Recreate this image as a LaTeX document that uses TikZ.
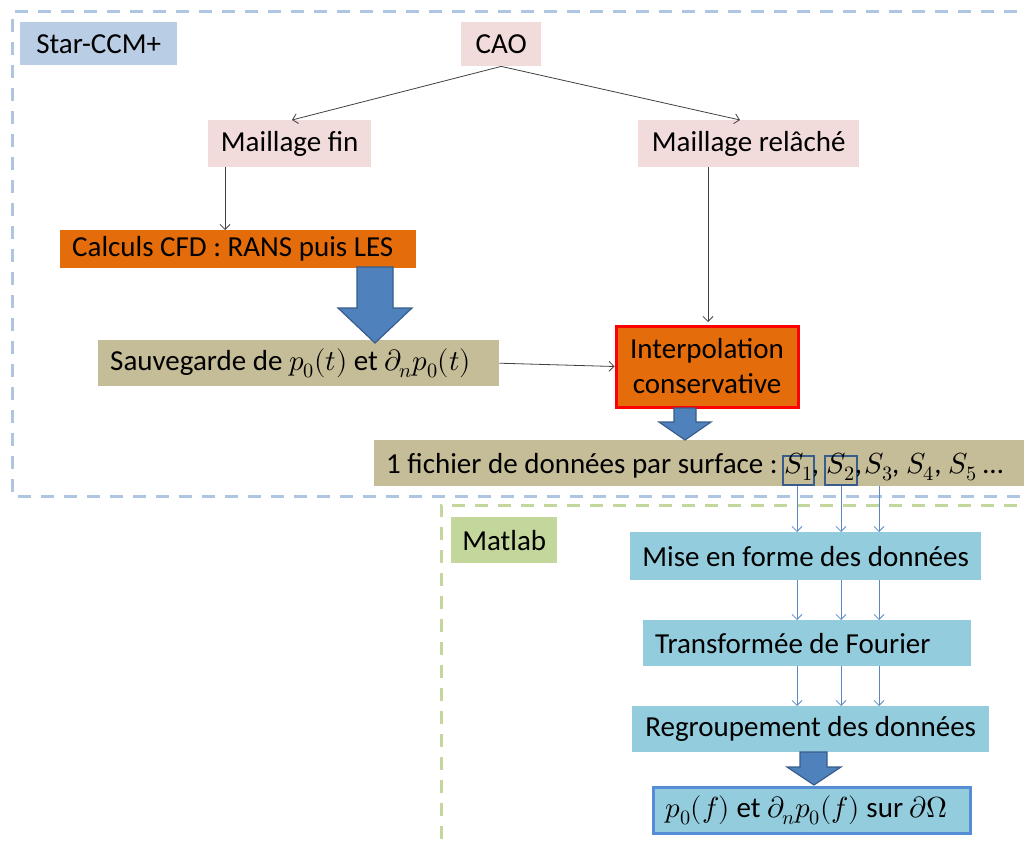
\documentclass[tikz,border=0pt]{standalone}
\usepackage{fontspec}
\usepackage{unicode-math}
\setmainfont{Carlito}
\usetikzlibrary{arrows.meta}
\definecolor{starblue}{HTML}{B9CDE5}
\definecolor{dashblue}{HTML}{AFC6E3}
\definecolor{caopink}{HTML}{F2DCDB}
\definecolor{cfdorange}{HTML}{E46C0A}
\definecolor{tan}{HTML}{C4BD97}
\definecolor{matgreen}{HTML}{C3D69B}
\definecolor{aqua}{HTML}{93CDDD}
\definecolor{arrblue}{HTML}{4F81BD}
\definecolor{arrdark}{HTML}{385D8A}
\definecolor{thinblue}{HTML}{5B87C5}
\definecolor{finalborder}{HTML}{558ED5}
\tikzset{
  big/.style={font=\fontsize{29}{35}\selectfont},
  box/.style={rectangle, anchor=north west, inner xsep=0pt, inner ysep=0pt, big},
  lbox/.style={box, align=flush left, inner xsep=12pt},
  sbox/.style={draw=arrdark, line width=1.2pt, inner xsep=1pt, inner ysep=0pt, text height=17pt, text depth=12pt, anchor=base, big},
  stext/.style={inner sep=0pt, anchor=base, big},
  thin/.style={draw=black!75, line width=0.8pt, -{Straight Barb[length=5pt,width=10pt]}},
  thinb/.style={draw=thinblue, line width=0.8pt, -{Straight Barb[length=5pt,width=10pt]}},
  bigarrow/.style={fill=arrblue, draw=arrdark, line width=1.2pt, line join=miter},
  frame/.style={line width=3pt, dash pattern=on 13pt off 10pt},
}
\begin{document}
\begin{tikzpicture}[x=1pt,y=-1pt]
\useasboundingbox (0,0) rectangle (1024,848);
% frames
\draw[frame, draw=dashblue] (1040,12) -- (12,12) -- (12,496) -- (1040,496);
\draw[frame, draw=matgreen] (1040,505) -- (441,505) -- (441,860);
% labels
\node[box, fill=starblue, minimum width=157pt, minimum height=43pt] (star) at (20,22) {Star-CCM+};
\node[box, fill=matgreen, minimum width=106pt, minimum height=46pt] (matlab) at (451,517) {Matlab};
% nodes
\node[box, fill=caopink, minimum width=80pt, minimum height=44pt] (cao) at (461,22) {CAO};
\node[box, fill=caopink, minimum width=163pt, minimum height=47pt] (fin) at (208,120) {Maillage fin};
\node[box, fill=caopink, minimum width=221pt, minimum height=47pt] (rel) at (638,120) {Maillage relâché};
\node[lbox, fill=cfdorange, minimum height=38pt, text width=332pt] (cfd) at (60,230) {Calculs CFD : RANS puis LES};
\node[lbox, fill=tan, minimum height=46pt, text width=377pt] (sauv) at (98,340) {Sauvegarde de $p_0(t)$ et $\partial_n p_0(t)$};
\node[box, fill=cfdorange, draw=red, line width=3pt, minimum width=182pt, minimum height=81pt, text width=182pt, align=center] (interp) at (614.5,324.5) {Interpolation\\conservative};
\node[box, fill=tan, minimum width=650pt, minimum height=46pt] (fich) at (374,440) {};
\node[stext, anchor=base west] (ftext) at (386,473) {1 fichier de données par surface :};
\node[sbox, minimum width=31pt] (s1) at (798.5,473) {$S_1$};
\node[stext] (c1) at (815.5,473) {,};
\node[sbox, minimum width=32pt] (s2) at (841,473) {$S_2$};
\node[stext] (c2) at (858.5,473) {,};
\node[stext] (s3) at (879,473) {$S_3$};
\node[stext, anchor=base west] (rest) at (892,473) {, $S_4$, $S_5$ \dots};
\coordinate (s1b) at (797,486);
\coordinate (s2b) at (841,486);
\coordinate (s3b) at (879,486);
\node[box, fill=aqua, minimum width=351pt, minimum height=48pt] (mise) at (630,532) {Mise en forme des données};
\node[lbox, fill=aqua, minimum height=46pt, text width=304pt] (trans) at (643,620) {Transformée de Fourier};
\node[box, fill=aqua, minimum width=357pt, minimum height=46pt] (regr) at (632,706) {Regroupement des données};
\node[lbox, fill=aqua, draw=finalborder, line width=2.5pt, minimum height=46pt, text width=293pt] (final) at (652.25,786.25) {$p_0(f)$ et $\partial_n p_0(f)$ sur $\partial\Omega$};
% thin arrows
\draw[thin] (cao.south) -- (292,120);
\draw[thin] (cao.south) -- (740,120);
\draw[thin] (225,167) -- (225,230);
\draw[thin] (708,167) -- (708,322);
\draw[thin] (sauv.east) -- (interp.west);
% blue thin arrows
\foreach \s in {s1b,s2b,s3b}{
  \draw[thinb] (\s) -- (\s |- mise.north);
  \draw[thinb] (\s |- mise.south) -- (\s |- trans.north);
  \draw[thinb] (\s |- trans.south) -- (\s |- regr.north);
}
% big arrows
\draw[bigarrow] (357,267) -- (393,267) -- (393,308) -- (412,308) -- (375,343) -- (338,308) -- (357,308) -- cycle;
\draw[bigarrow] (674,408) -- (696,408) -- (696,422) -- (711,422) -- (685,440) -- (659,422) -- (674,422) -- cycle;
\draw[bigarrow] (800,752) -- (827,752) -- (827,767) -- (841,767) -- (814,785) -- (787,767) -- (800,767) -- cycle;
\end{tikzpicture}
\end{document}
